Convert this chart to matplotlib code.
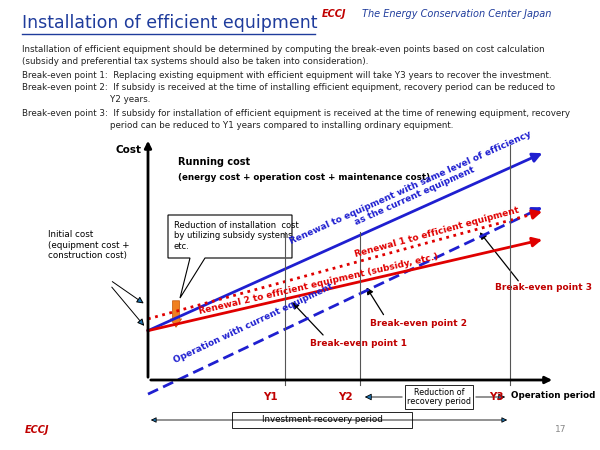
import matplotlib
matplotlib.use("Agg")
import matplotlib.pyplot as plt
from matplotlib.patches import FancyArrowPatch, Polygon
import math

# data (chart units)
x_end = 9.75
blue_solid = [2.1, 9.7]
blue_dash = [-0.6, 7.4]
red_dot = [2.6, 7.2]
red_solid = [2.1, 6.0]
year_labels = ["Y1", "Y2", "Y3"]
year_pos = [3.37, 5.2, 8.9]

W, H = 600, 450
fig = plt.figure(figsize=(6, 4.5), dpi=100)
bg = fig.add_axes([0, 0, 1, 1]); bg.set_xlim(0, W); bg.set_ylim(H, 0); bg.axis("off")

def fx(px): return px / W
def fy(py): return 1 - py / H

# header
bg.text(22, 32, "Installation of efficient equipment ", fontsize=12.5, color="#1f3c9c", va="bottom")
bg.plot([22, 315], [34, 34], color="#1f3c9c", lw=1)
bg.text(322, 14, "ECCJ", fontsize=7, color="#c00000", style="italic", weight="bold", va="center")
bg.text(362, 14, "The Energy Conservation Center Japan", fontsize=7, color="#1f3c9c", style="italic", va="center")
bg.text(25, 430, "ECCJ", fontsize=7, color="#c00000", style="italic", weight="bold", va="center")
bg.text(555, 430, "17", fontsize=6.5, color="#888888", va="center")

body = [(22, 50, "Installation of efficient equipment should be determined by computing the break-even points based on cost calculation"),
        (22, 62, "(subsidy and preferential tax systems should also be taken into consideration)."),
        (22, 75, "Break-even point 1:  Replacing existing equipment with efficient equipment will take Y3 years to recover the investment."),
        (22, 88, "Break-even point 2:  If subsidy is received at the time of installing efficient equipment, recovery period can be reduced to"),
        (110, 100, "Y2 years."),
        (22, 113, "Break-even point 3:  If subsidy for installation of efficient equipment is received at the time of renewing equipment, recovery"),
        (110, 125, "period can be reduced to Y1 years compared to installing ordinary equipment.")]
for x, y, t in body:
    bg.text(x, y, t, fontsize=6.3, va="center", color="#222222")

# chart axes
x0, y0, x1, y1 = 148, 380, 555, 145
ax = fig.add_axes([fx(x0), fy(y0), (x1 - x0) / W, (y0 - y1) / H])
ax.set_xlim(0, 10); ax.set_ylim(0, 10); ax.axis("off")
ax.patch.set_alpha(0)

kw = dict(clip_on=False)
ax.annotate("", xy=(10.0, 0), xytext=(0, 0), arrowprops=dict(arrowstyle="-|>", lw=2, color="black"), annotation_clip=False)
ax.annotate("", xy=(0, 10.3), xytext=(0, 0), arrowprops=dict(arrowstyle="-|>", lw=2, color="black"), annotation_clip=False)

def line_with_head(vals, color, lw, ls):
    ax.plot([0, x_end - 0.15], [vals[0], vals[0] + (vals[1] - vals[0]) * (x_end - 0.15) / x_end],
            color=color, lw=lw, ls=ls, **kw)
    t = 0.97
    ax.annotate("", xy=(x_end, vals[1]), xytext=(x_end * t, vals[0] + (vals[1] - vals[0]) * t),
                arrowprops=dict(arrowstyle="-|>", lw=lw, color=color, mutation_scale=14), annotation_clip=False)

line_with_head(blue_solid, "#1f1fd0", 2, "-")
line_with_head(blue_dash, "#1f1fd0", 2, (0, (4, 2)))
line_with_head(red_dot, "#e00000", 2, ":")
line_with_head(red_solid, "#e00000", 2, "-")

for lab, xp in zip(year_labels, year_pos):
    ax.plot([xp, xp], [-0.2, 6.3 if lab != "Y3" else 10], color="#555555", lw=0.8, **kw)
    ax.text(xp - 0.35, -0.5, lab, color="#c00000", fontsize=7.5, weight="bold", ha="center", va="top")

def rot(v):
    return math.degrees(math.atan2((v[1] - v[0]) * 23.5, x_end * 40.7))
ax.text(6.5, 8.0, "Renewal to equipment with same level of efficiency\nas the current equipment", color="#1f1fd0",
        fontsize=6.5, weight="bold", rotation=rot(blue_solid), ha="center", va="center", linespacing=1.1)
ax.text(7.1, 6.3, "Renewal 1 to efficient equipment", color="#e00000", fontsize=6.5, weight="bold",
        rotation=rot(red_dot), ha="center", va="center")
ax.text(4.2, 4.1, "Renewal 2 to efficient equipment (subsidy, etc.)", color="#e00000", fontsize=6.5, weight="bold",
        rotation=rot(red_solid), ha="center", va="center")
ax.text(2.6, 2.4, "Operation with current equipment", color="#1f1fd0", fontsize=6.5, weight="bold",
        rotation=rot(blue_dash), ha="center", va="center")

# text labels (pixels)
bg.text(116, 150, "Cost", fontsize=7.5, weight="bold", va="center")
bg.text(178, 162, "Running cost", fontsize=7, weight="bold", va="center")
bg.text(178, 177, "(energy cost + operation cost + maintenance cost)", fontsize=6.3, weight="bold", va="center")
bg.text(48, 245, "Initial cost\n(equipment cost +\nconstruction cost)", fontsize=6.3, va="center", linespacing=1.2)
bg.annotate("", xy=(146, 305), xytext=(110, 280), arrowprops=dict(arrowstyle="-|>", lw=0.7))
bg.annotate("", xy=(146, 328), xytext=(110, 285), arrowprops=dict(arrowstyle="-|>", lw=0.7))
bg.text(511, 396, "Operation period", fontsize=6.3, weight="bold", va="center")
bg.text(495, 288, "Break-even point 3", color="#c00000", fontsize=6.5, weight="bold", va="center")
bg.text(370, 323, "Break-even point 2", color="#c00000", fontsize=6.5, weight="bold", va="center")
bg.text(310, 343, "Break-even point 1", color="#c00000", fontsize=6.5, weight="bold", va="center")
for (a, b), (c, d) in [((520, 283), (478, 230)), ((385, 317), (365, 285)), ((325, 337), (290, 300))]:
    bg.annotate("", xy=(c, d), xytext=(a, b), arrowprops=dict(arrowstyle="-|>", lw=0.9, color="black"))

# callout box
bg.add_patch(Polygon([(168, 215), (292, 215), (292, 258), (205, 258), (180, 298), (190, 258), (168, 258)],
                     closed=True, fc="white", ec="black", lw=0.8))
bg.text(174, 236, "Reduction of installation  cost\nby utilizing subsidy systems,\netc.", fontsize=6, va="center", linespacing=1.15)
bg.add_patch(FancyArrowPatch((176, 298), (176, 330), arrowstyle="simple,head_width=8,head_length=6,tail_width=5",
                             fc="#f08020", ec="#c05000", lw=0.5))

# recovery period boxes
bg.add_patch(plt.Rectangle((405, 385), 68, 24, fc="white", ec="black", lw=0.6))
bg.text(439, 397, "Reduction of\nrecovery period", fontsize=5.8, ha="center", va="center", linespacing=1.1)
bg.annotate("", xy=(362, 397), xytext=(405, 397), arrowprops=dict(arrowstyle="-|>", lw=0.6))
bg.annotate("", xy=(508, 397), xytext=(473, 397), arrowprops=dict(arrowstyle="-|>", lw=0.6))
bg.annotate("", xy=(148, 420), xytext=(510, 420), arrowprops=dict(arrowstyle="<|-|>", lw=0.6, mutation_scale=8))
bg.add_patch(plt.Rectangle((232, 412), 180, 16, fc="white", ec="black", lw=0.6))
bg.text(322, 420, "Investment recovery period", fontsize=6.3, ha="center", va="center")

fig.savefig("out.png", dpi=100)
